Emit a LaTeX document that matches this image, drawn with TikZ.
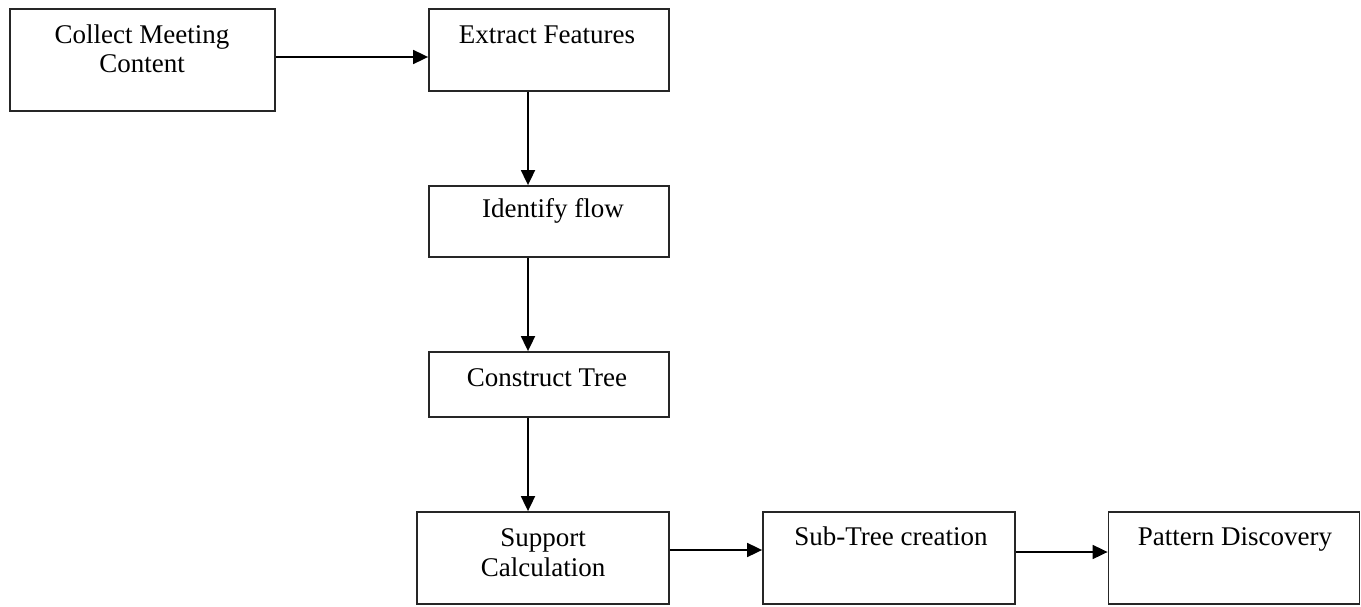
\documentclass[tikz,border=0pt]{standalone}
\usepackage{fontspec}
\setmainfont{Liberation Serif}
\usetikzlibrary{arrows.meta}
\begin{document}
\begin{tikzpicture}[x=1pt,y=-1pt,
  box/.style={draw=black!85,line width=1.8pt,rectangle,inner sep=0pt},
  lbl/.style={anchor=base,inner sep=0pt,font=\fontsize{27}{32}\selectfont},
  arr/.style={draw=black,line width=1.8pt,-{Triangle[length=15pt,width=14pt]}}]
\useasboundingbox[fill=white] (0,0) rectangle (1361,607);
\node[box,minimum width=265pt,minimum height=102pt] (b1) at (142.5,60) {};
\node[box,minimum width=240pt,minimum height=82pt] (b2) at (549,50) {};
\node[box,minimum width=240pt,minimum height=71pt] (b3) at (549,221.5) {};
\node[box,minimum width=240pt,minimum height=65pt] (b4) at (549,384.5) {};
\node[box,minimum width=252pt,minimum height=92pt] (b5) at (543,558) {};
\node[box,minimum width=252pt,minimum height=92pt] (b6) at (889,558) {};
\node[box,minimum width=251pt,minimum height=92pt] (b7) at (1234,558) {};
\node[lbl] (t1a) at (142,44) {Collect Meeting};
\node[lbl] (t1b) at (142,73) {Content};
\node[lbl] (t2) at (547,44) {Extract Features};
\node[lbl] (t3) at (553,218) {Identify flow};
\node[lbl] (t4) at (547,386) {Construct Tree};
\node[lbl] (t5a) at (543,546) {Support};
\node[lbl] (t5b) at (543,576) {Calculation};
\node[lbl] (t6) at (891,545) {Sub-Tree creation};
\node[lbl] (t7) at (1235,545) {Pattern Discovery};
\draw[arr] ([yshift=3pt]b1.east) -- ([yshift=3pt]b1.east -| b2.west);
\draw[arr] ([xshift=-21pt]b2.south) -- ([xshift=-21pt]b2.south |- b3.north);
\draw[arr] ([xshift=-21pt]b3.south) -- ([xshift=-21pt]b3.south |- b4.north);
\draw[arr] ([xshift=-21pt]b4.south) -- ([xshift=-21pt]b4.south |- b5.north);
\draw[arr] ([yshift=8pt]b5.east) -- ([yshift=8pt]b5.east -| b6.west);
\draw[arr] ([yshift=6pt]b6.east) -- ([yshift=6pt]b6.east -| b7.west);
\end{tikzpicture}
\end{document}
